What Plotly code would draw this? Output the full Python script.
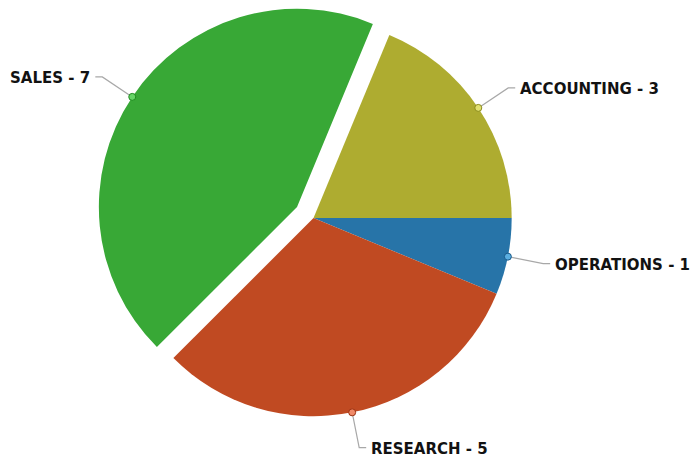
import math
import plotly.graph_objects as go

# ---- data ----
labels = ["ACCOUNTING", "OPERATIONS", "RESEARCH", "SALES"]
values = [3, 1, 5, 7]
pulls = [0, 0, 0, 0.1]
colors = ["#aeac30", "#2774a8", "#c04a22", "#38a836"]
dot_colors = ["#e0e070", "#5aaee0", "#f08a68", "#66d466"]
dot_edges = ["#8a8a1a", "#1a5a8a", "#9a3010", "#1e8a1e"]

W, H = 698, 457
ROT = 22.5
dom_x = [0.1368, 0.7615]
dom_y = [0.046, 1.0]

fig = go.Figure()
fig.add_trace(go.Pie(
    labels=labels, values=values, pull=pulls, sort=False,
    direction="clockwise", rotation=ROT,
    marker=dict(colors=colors, line=dict(width=0)),
    textinfo="none", hoverinfo="label+value",
    domain=dict(x=dom_x, y=dom_y), showlegend=False,
))

# replicate plotly's pie geometry to place leader lines / labels
box_w = W * (dom_x[1] - dom_x[0])
box_h = H * (dom_y[1] - dom_y[0])
r = min(box_w, box_h) / 2 / (1 + max(pulls))
cx = W * (dom_x[0] + dom_x[1]) / 2
cy = H * (1 - dom_y[0]) - box_h / 2

total = sum(values)
cum = 0
shapes = []
annotations = []
for lab, v, p, dc, de in zip(labels, values, pulls, dot_colors, dot_edges):
    mid = math.radians(90 - ROT - (cum + v / 2) / total * 360)
    cum += v
    ux, uy = math.cos(mid), -math.sin(mid)
    ox, oy = cx + p * r * ux, cy + p * r * uy
    dx, dy = ox + r * ux, oy + r * uy
    ex, ey = ox + (r + 36) * ux, oy + (r + 36) * uy
    side = 1 if ux >= 0 else -1
    hx = ex + side * 7
    shapes.append(dict(type="path", xref="paper", yref="paper",
                       path=f"M {dx/W},{1-dy/H} L {ex/W},{1-ey/H} L {hx/W},{1-ey/H}",
                       line=dict(color="#a8a8a8", width=1.2)))
    shapes.append(dict(type="circle", xref="paper", yref="paper",
                       x0=(dx - 3.5) / W, x1=(dx + 3.5) / W,
                       y0=1 - (dy + 3.5) / H, y1=1 - (dy - 3.5) / H,
                       fillcolor=dc, line=dict(color=de, width=1)))
    annotations.append(dict(xref="paper", yref="paper",
                            x=(hx + side * 3) / W, y=1 - (ey + 1) / H,
                            xanchor="left" if side > 0 else "right", yanchor="middle",
                            text=f"<b>{lab} - {v}</b>", showarrow=False,
                            font=dict(family="DejaVu Sans", size=15, color="#121212")))

fig.update_layout(
    width=W, height=H,
    margin=dict(l=0, r=0, t=0, b=0),
    paper_bgcolor="white", plot_bgcolor="white",
    shapes=shapes, annotations=annotations,
)
fig.write_html("out.html")
